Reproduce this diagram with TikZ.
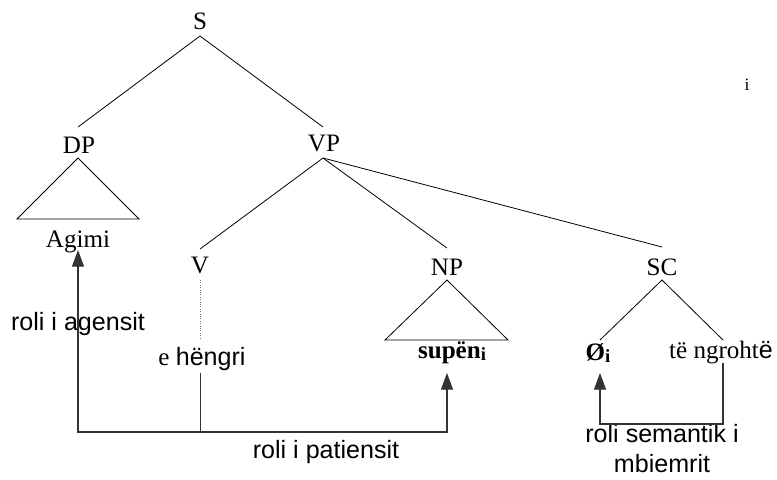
\documentclass[tikz,border=0pt]{standalone}
\usepackage{fontspec}
\setmainfont{Liberation Serif}
\newfontfamily\arial{Liberation Sans}
\usetikzlibrary{arrows.meta}
\begin{document}
\begin{tikzpicture}[x=0.75pt,y=-0.75pt,
  lbl/.style={inner sep=0,anchor=base,font=\fontsize{18.8}{22}\selectfont},
  sans/.style={inner sep=0,anchor=base,font=\arial\fontsize{18.8}{22}\selectfont},
  edge/.style={line width=0.6pt},
  role/.style={line width=0.8pt,draw=black!80},
  tip/.style={-{Triangle[width=9pt,length=12.5pt]}}]
\useasboundingbox (0,0) rectangle (777,479);
% category labels
\node[lbl] (S) at (200,29) {S};
\node[lbl] (DP) at (79,153) {DP};
\node[lbl] (VP) at (324,151) {VP};
\node[lbl] (V) at (200,273) {V};
\node[lbl] (NP) at (447,275) {NP};
\node[lbl] (SC) at (662,275) {SC};
\node[lbl] (idx) at (747,90) {\fontsize{13}{13}\selectfont i};
% leaves
\node[lbl] (agimi) at (78,247) {Agimi};
\node[lbl] (hengri) at (202,365) {e {\arial hëngri}};
\node[lbl] (supen) at (452,358) {\textbf{supën}\raisebox{-2pt}{\fontsize{14}{14}\selectfont\textbf{i}}};
\node[lbl] (zero) at (598,360) {\textbf{Ø}\raisebox{-2pt}{\fontsize{14}{14}\selectfont\textbf{i}}};
\node[lbl] (ngrohte) at (721,358) {të ngroht{\arial ë}};
% role labels
\node[sans] (ragens) at (78,330) {roli i agensit};
\node[sans] (rpat) at (326,458) {roli i patiensit};
\node[sans] (rsem1) at (662,442) {roli semantik i};
\node[sans] (rsem2) at (662,472) {mbiemrit};
% tree coordinates
\coordinate (Sb) at (200,36);
\coordinate (DPt) at (78,127);
\coordinate (VPt) at (323,127);
\coordinate (DPb) at (78,158);
\coordinate (DPl) at (17,219);
\coordinate (DPr) at (139,219);
\coordinate (VPb) at (323,158);
\coordinate (Vt) at (200,249);
\coordinate (NPt) at (447,248);
\coordinate (SCt) at (662,247);
\coordinate (NPb) at (447,280);
\coordinate (NPl) at (385,340);
\coordinate (NPr) at (508,340);
\coordinate (SCb) at (662,280);
\coordinate (SCl) at (600,340);
\coordinate (SCr) at (723,340);
\draw[edge] (DPt) -- (Sb) -- (VPt);
\draw[edge] (DPb) -- (DPl) -- (DPr) -- cycle;
\draw[edge] (VPb) -- (Vt);
\draw[edge] (VPb) -- (NPt);
\draw[edge] (VPb) -- (SCt);
\draw[edge] (NPb) -- (NPl) -- (NPr) -- cycle;
\draw[edge] (SCl) -- (SCb) -- (SCr);
% V to verb
\coordinate (Vb) at (200.5,280);
\coordinate (hengt) at (200.5,340);
\draw[line width=0.8pt,draw=black!55,densely dotted] (Vb) -- (hengt);
% role arrows
\coordinate (hb) at (200.5,373);
\coordinate (base) at (200.5,432);
\coordinate (agb) at (78,432);
\coordinate (agtip) at (78,250);
\coordinate (npb) at (447,432);
\coordinate (nptip) at (447,373);
\draw[role] (hb) -- (base);
\draw[role,tip] (base) -- (agb) -- (agtip);
\draw[role,tip] (base) -- (npb) -- (nptip);
\coordinate (ngb) at (723,363);
\coordinate (sr) at (723,424);
\coordinate (sl) at (600,424);
\coordinate (ztip) at (600,373);
\draw[role,tip] (ngb) -- (sr) -- (sl) -- (ztip);
\end{tikzpicture}
\end{document}
